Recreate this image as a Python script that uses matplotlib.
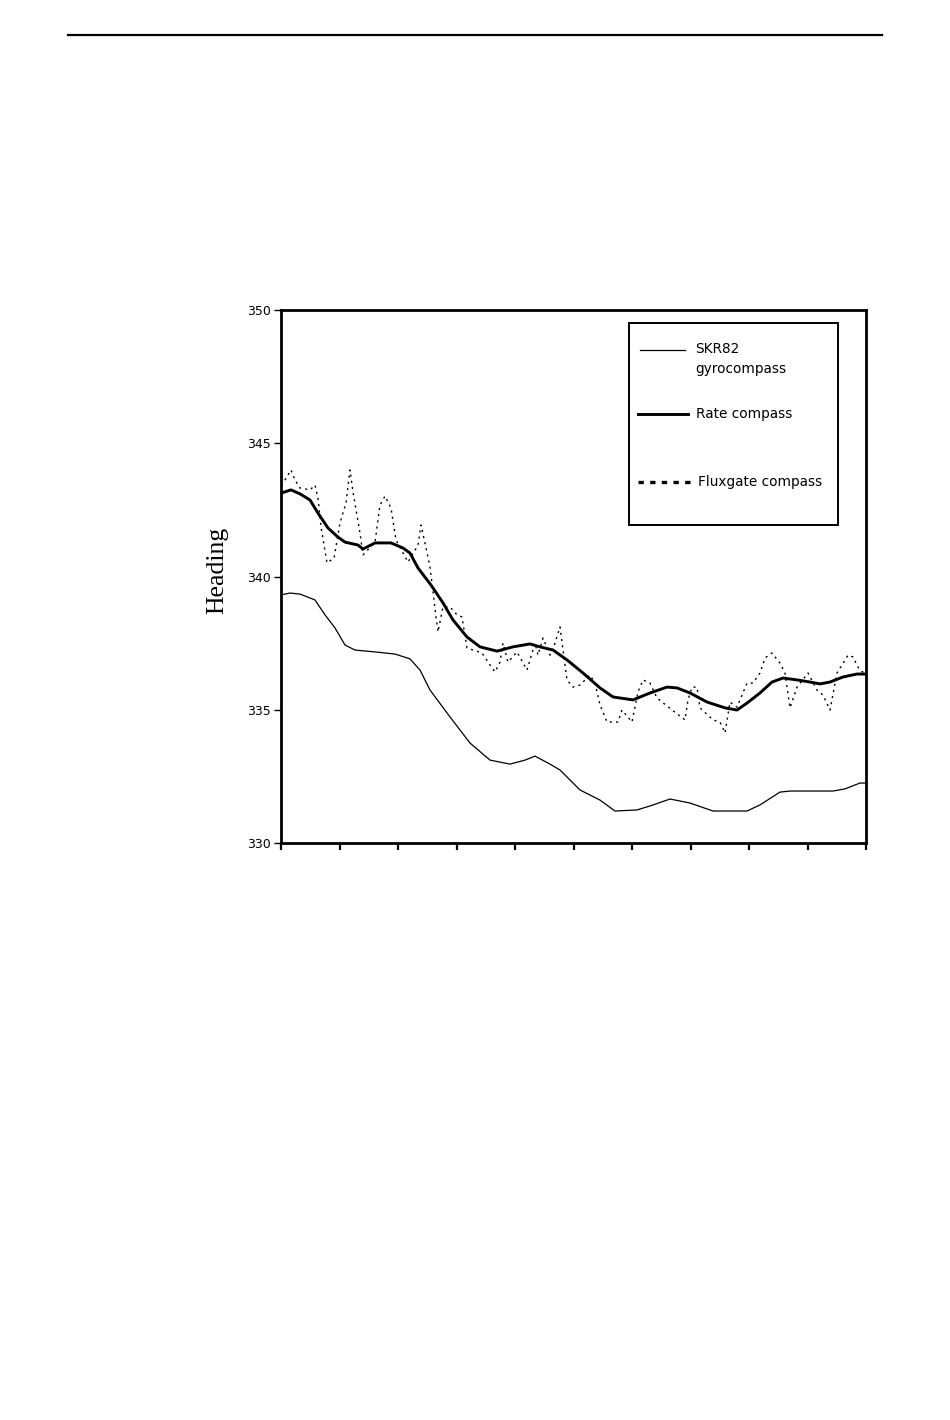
import matplotlib
matplotlib.use("Agg")
import matplotlib.pyplot as plt
from matplotlib.lines import Line2D
from matplotlib.patches import Rectangle

# ---- data (x in sample units 0..100, heading in degrees) ----
gyro_x = [0.00, 1.54, 3.25, 5.81, 7.52, 9.23, 10.94, 12.65, 16.07, 19.49, 22.05, 23.76,
          25.47, 28.89, 32.31, 35.73, 39.15, 41.71, 43.42, 45.98, 47.69, 51.11, 54.53,
          57.09, 60.85, 63.08, 66.50, 69.91, 73.85, 79.66, 81.88, 85.30, 87.01, 94.36,
          96.41, 98.97, 100.00]
gyro_y = [339.31, 339.38, 339.34, 339.12, 338.56, 338.07, 337.43, 337.24, 337.17, 337.09,
          336.91, 336.49, 335.74, 334.73, 333.75, 333.11, 332.96, 333.11, 333.26, 332.96,
          332.74, 331.99, 331.61, 331.20, 331.24, 331.39, 331.65, 331.50, 331.20, 331.20,
          331.43, 331.91, 331.95, 331.95, 332.03, 332.25, 332.25]

rate_x = [0.00, 1.71, 3.25, 4.96, 6.32, 8.03, 9.74, 10.94, 13.16, 14.02, 16.07, 18.80,
          20.85, 22.05, 23.42, 25.64, 27.69, 29.40, 31.79, 34.02, 36.92, 39.66, 42.56,
          44.27, 46.50, 48.89, 51.62, 54.53, 56.75, 60.17, 63.08, 65.98, 67.69, 69.91,
          72.82, 75.90, 77.95, 79.66, 81.88, 83.93, 85.81, 88.21, 90.43, 92.14, 93.85,
          96.07, 98.46, 100.00]
rate_y = [343.13, 343.25, 343.10, 342.87, 342.38, 341.82, 341.48, 341.29, 341.18, 341.03,
          341.26, 341.26, 341.07, 340.88, 340.32, 339.68, 339.01, 338.37, 337.73, 337.36,
          337.20, 337.36, 337.47, 337.36, 337.24, 336.87, 336.38, 335.82, 335.48, 335.37,
          335.63, 335.85, 335.82, 335.63, 335.29, 335.07, 334.99, 335.25, 335.63, 336.04,
          336.19, 336.12, 336.04, 335.97, 336.04, 336.23, 336.34, 336.34]

flux_x = [0.00, 0.68, 1.71, 2.39, 3.25, 4.96, 5.81, 6.32, 6.84, 7.86,
          9.06, 10.09, 11.11, 11.79, 12.31, 13.50, 14.02, 16.07, 16.92, 17.78,
          18.80, 19.66, 21.71, 23.42, 23.93, 24.79, 25.47, 26.50, 26.84, 27.69,
          28.89, 30.09, 30.94, 31.79, 32.82, 34.36, 35.73, 36.58, 37.44, 37.95,
          38.80, 40.34, 42.05, 43.42, 43.93, 44.79, 45.98, 46.84, 47.69, 48.21,
          48.89, 49.91, 51.11, 52.82, 53.68, 54.53, 55.73, 57.61, 58.29, 60.00,
          61.03, 61.88, 63.08, 64.27, 66.84, 69.06, 69.57, 70.26, 71.11, 71.62,
          73.85, 75.04, 75.90, 76.75, 77.95, 79.66, 80.68, 81.88, 82.74, 83.93,
          85.30, 86.15, 87.01, 88.21, 90.09, 91.62, 92.65, 93.85, 95.04, 95.90,
          96.92, 97.78, 98.63, 99.32, 100.00]
flux_y = [343.43, 343.62, 344.00, 343.62, 343.32, 343.25, 343.43, 342.95, 341.86, 340.51,
          340.69, 342.01, 342.76, 344.00, 343.17, 341.63, 340.81, 341.29, 342.68, 343.02,
          342.57, 341.37, 340.54, 341.18, 341.93, 341.07, 340.36, 338.48, 337.92, 338.86,
          338.86, 338.56, 338.48, 337.32, 337.24, 337.13, 336.68, 336.42, 336.79, 337.50,
          336.79, 337.17, 336.49, 337.50, 337.05, 337.69, 337.05, 337.50, 338.11, 337.24,
          336.12, 335.85, 335.93, 336.30, 336.00, 335.18, 334.54, 334.54, 334.99, 334.54,
          335.67, 336.12, 336.00, 335.44, 334.99, 334.62, 335.37, 335.85, 335.85, 335.07,
          334.62, 334.54, 334.13, 335.29, 335.10, 336.00, 336.00, 336.38, 336.94, 337.13,
          336.75, 336.38, 335.07, 335.85, 336.38, 335.74, 335.55, 334.99, 336.38, 336.68,
          337.05, 336.98, 336.60, 336.42, 336.42]

y_ticks = [330, 335, 340, 345, 350]
x_ticks = [0, 10, 20, 30, 40, 50, 60, 70, 80, 90, 100]
labels = ["SKR82", "gyrocompass", "Rate compass", "Fluxgate compass"]
y_label = "Heading"

# ---- figure ----
fig = plt.figure(figsize=(9.5, 14.2), dpi=100)
fig.patch.set_facecolor("white")

# header rule
fig.add_artist(Line2D([68 / 950, 882 / 950], [1 - 35 / 1420, 1 - 35 / 1420],
                      color="black", lw=1.6, transform=fig.transFigure))

ax = fig.add_axes([281 / 950, 577 / 1420, 585 / 950, 533 / 1420])

ax.plot(gyro_x, gyro_y, color="black", lw=0.9, solid_joinstyle="round")
ax.plot(rate_x, rate_y, color="black", lw=2.1, solid_joinstyle="round")
ax.plot(flux_x, flux_y, color="black", lw=1.0, linestyle=(0, (1.5, 3.0)))

ax.set_xlim(0, 100)
ax.set_ylim(330, 350)
ax.set_yticks(y_ticks)
ax.set_xticks(x_ticks)
ax.set_xticklabels([])

for s in ax.spines.values():
    s.set_linewidth(2.0)
    s.set_color("black")

ax.tick_params(axis="y", direction="out", length=5, width=1.0, pad=2,
               labelsize=9, labelcolor="black")
ax.tick_params(axis="x", direction="out", length=5, width=1.6)
for lab in ax.get_yticklabels():
    lab.set_fontfamily("DejaVu Sans")

ax.set_ylabel(y_label, fontsize=18.5, family="Liberation Serif")
ax.yaxis.set_label_coords(-53 / 585, (843 - 570) / 533)

# legend box (drawn in axes fraction)
def fx(px):
    return (px - 281) / 585

def fy(py):
    return (843 - py) / 533

LFS = 9.8
ax.add_patch(Rectangle((fx(629), fy(525)), fx(838) - fx(629), fy(323) - fy(525),
                       transform=ax.transAxes, facecolor="white", edgecolor="black",
                       lw=1.4, zorder=5))
ax.add_line(Line2D([fx(640), fx(685)], [fy(350), fy(350)], color="black", lw=0.9,
                   transform=ax.transAxes, zorder=6))
ax.text(fx(695), fy(349), labels[0], transform=ax.transAxes, fontsize=LFS,
        family="DejaVu Sans", va="center", ha="left", zorder=6)
ax.text(fx(695), fy(369), labels[1], transform=ax.transAxes, fontsize=LFS,
        family="DejaVu Sans", va="center", ha="left", zorder=6)
ax.add_line(Line2D([fx(638), fx(688)], [fy(414), fy(414)], color="black", lw=2.1,
                   transform=ax.transAxes, zorder=6))
ax.text(fx(696), fy(414), labels[2], transform=ax.transAxes, fontsize=LFS,
        family="DejaVu Sans", va="center", ha="left", zorder=6)
ax.add_line(Line2D([fx(638), fx(692)], [fy(482), fy(482)], color="black", lw=2.4,
                   linestyle=(0, (1.6, 1.9)), transform=ax.transAxes, zorder=6))
ax.text(fx(698), fy(482), labels[3], transform=ax.transAxes, fontsize=LFS,
        family="DejaVu Sans", va="center", ha="left", zorder=6)

fig.savefig("out.png", dpi=100, facecolor="white")
